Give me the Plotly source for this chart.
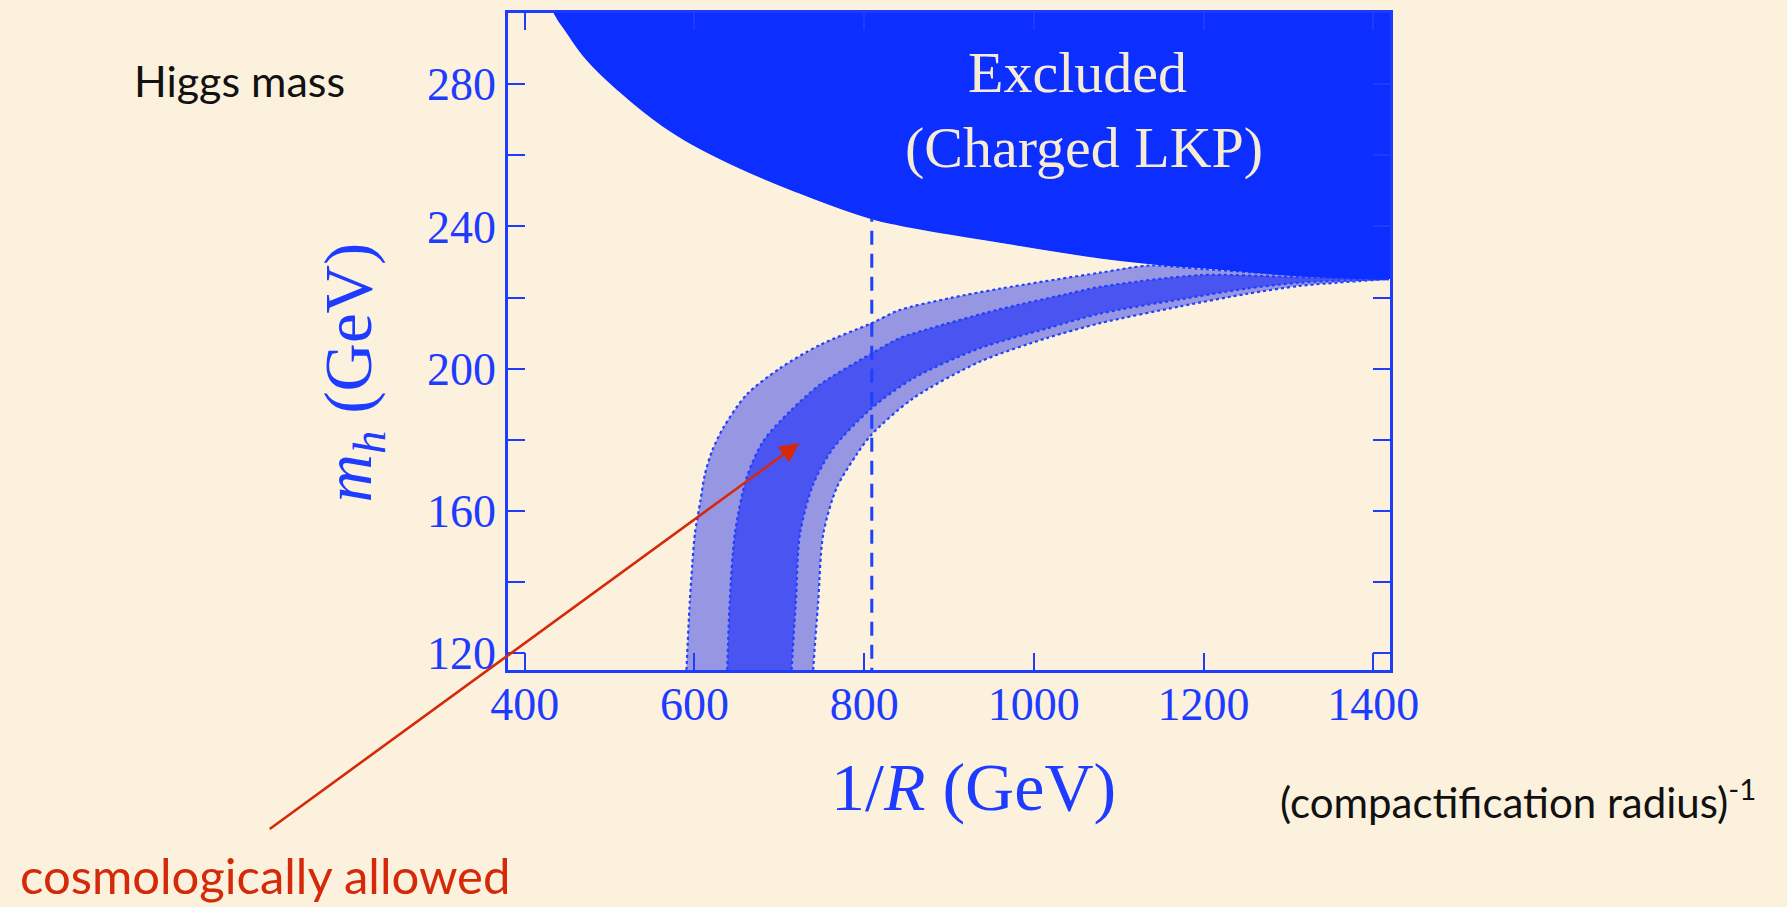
import plotly.graph_objects as go

# ---------------- data ----------------
# Excluded region (charged LKP): lower boundary m_h vs 1/R
excl_x = [434.8, 450, 473, 509, 563, 631, 721, 809, 842, 960, 1078, 1137, 1235, 1314, 1418]
excl_m = [300, 294.5, 287, 278.6, 268.3, 259, 249.7, 242.2, 240.4, 235.6, 231.2, 229.6, 227.7, 226.1, 225.2]

# outer band (light), left edge
l2_x = [590, 590.6, 594.6, 597.5, 600.5, 607, 612.3, 621, 633.8, 661.4, 700.7, 747.9, 808.8, 842, 900, 960, 1078, 1137, 1200, 1300, 1418]
l2_m = [112, 115.3, 134.8, 145, 153.5, 162.8, 170.3, 177, 183.3, 192.7, 200.1, 206.7, 212.8, 216.5, 219.8, 222.5, 227, 229, 228, 226.5, 225.2]
# outer band (light), right edge
r2_x = [739.7, 740, 745.9, 751.8, 767.6, 791.2, 808.8, 857.9, 936.6, 1015.2, 1078, 1172, 1250, 1314, 1418]
r2_m = [112, 115.3, 134.8, 153.5, 166.5, 175.9, 181.5, 191.7, 202, 208.6, 212.8, 217.5, 221, 223.3, 225.2]
# inner band (dark), left edge
l1_x = [638.2, 638.6, 641.7, 647.6, 661.4, 681, 712.5, 747.9, 808.8, 842, 877.6, 956, 1035, 1078, 1196, 1300, 1418]
l1_m = [112, 115.3, 134.8, 153.5, 169.3, 179.6, 188, 195.5, 204.3, 208.6, 211.3, 216.5, 220.8, 223, 226.3, 225.8, 225.2]
# inner band (dark), right edge
r1_x = [714.2, 714.5, 719.6, 724.3, 740, 763.6, 808.8, 857.9, 936.6, 1015.2, 1078, 1172, 1250, 1314, 1418]
r1_m = [112, 115.3, 134.8, 153.5, 167.5, 177.7, 188.9, 197.3, 205.8, 211.3, 215.5, 219.5, 222.5, 224.2, 225.2]

# vertical dashed reference line at 1/R ~ 810 GeV
vline_x = [809, 809]
vline_m = [112, 242.2]

x_ticks = [400, 600, 800, 1000, 1200, 1400]
y_ticks = [120, 160, 200, 240, 280]
y_minor_step = 20

x_range = [380.3, 1419.7]
y_range = [115.3, 300.0]

# ---------------- style ----------------
BG = "#fcf1dd"
AX = "#1e3cff"
EXCL = "#0c2eff"
LIGHT = "#9696e3"
DARK = "#4a54f0"
EDGE = "#1f40ff"
RED = "#d42a0a"
SERIF = "Liberation Serif, Times New Roman, serif"
HAND = "Lato, Noto Sans, sans-serif"

fig = go.Figure()

# light band
fig.add_trace(go.Scatter(
    x=l2_x + r2_x[::-1], y=l2_m + r2_m[::-1], mode="lines",
    line=dict(width=0, shape="spline", smoothing=0.8), fill="toself", fillcolor=LIGHT,
    hoverinfo="skip", showlegend=False))
# dark band
fig.add_trace(go.Scatter(
    x=l1_x + r1_x[::-1], y=l1_m + r1_m[::-1], mode="lines",
    line=dict(width=0, shape="spline", smoothing=0.8), fill="toself", fillcolor=DARK,
    hoverinfo="skip", showlegend=False))
# dotted edges
for cx, cm in [(l2_x, l2_m), (r2_x, r2_m), (l1_x, l1_m), (r1_x, r1_m)]:
    fig.add_trace(go.Scatter(
        x=cx, y=cm, mode="lines",
        line=dict(color=EDGE, width=2.2, dash="dot", shape="spline", smoothing=0.8),
        hoverinfo="skip", showlegend=False))

# excluded region
ex_poly_x = [420] + excl_x + [1470, 1470, 420]
ex_poly_m = [320] + excl_m + [excl_m[-1], 320, 320]
fig.add_trace(go.Scatter(
    x=ex_poly_x, y=ex_poly_m, mode="lines",
    line=dict(width=0, shape="spline", smoothing=1.2), fill="toself", fillcolor=EXCL,
    hoverinfo="skip", showlegend=False))
fig.add_trace(go.Scatter(
    x=excl_x, y=excl_m, mode="lines",
    line=dict(color=EXCL, width=1.5, shape="spline", smoothing=1.2),
    hoverinfo="skip", showlegend=False))

# dashed vertical line
fig.add_trace(go.Scatter(
    x=vline_x, y=vline_m, mode="lines",
    line=dict(color=EDGE, width=3, dash="14px,9px"),
    hoverinfo="skip", showlegend=False))

axis_common = dict(
    showline=True, linecolor=AX, linewidth=2.6, mirror="ticks",
    ticks="inside", ticklen=17, tickwidth=2.4, tickcolor=AX,
    showgrid=False, zeroline=False,
    tickfont=dict(family=SERIF, size=46, color=AX),
)
fig.update_xaxes(range=x_range, tickvals=x_ticks, ticklabelstandoff=-8, **axis_common)
fig.update_yaxes(range=y_range, tickvals=y_ticks, ticklabelstandoff=0,
                 minor=dict(tick0=y_ticks[0], dtick=y_minor_step, ticks="inside", ticklen=17,
                            tickwidth=2.4, tickcolor=AX, showgrid=False),
                 **axis_common)

annotations = [
    dict(text="Excluded", x=1051, y=283.3, xref="x", yref="y", showarrow=False,
         font=dict(family=SERIF, size=58, color="#f6ecd6"), xanchor="center", yanchor="middle"),
    dict(text="(Charged LKP)", x=1059, y=262.1, xref="x", yref="y", showarrow=False,
         font=dict(family=SERIF, size=58, color="#f6ecd6"), xanchor="center", yanchor="middle"),
    dict(text="1/<i>R</i> (GeV)", x=0.5283, y=-0.1788, xref="paper", yref="paper", showarrow=False,
         font=dict(family=SERIF, size=68, color=AX), xanchor="center", yanchor="middle"),
    dict(text="<i>m</i><sub><i>h</i></sub> (GeV)", x=-0.1757, y=0.453, xref="paper", yref="paper",
         showarrow=False, textangle=-90,
         font=dict(family=SERIF, size=67, color=AX), xanchor="center", yanchor="middle"),
    dict(text="Higgs mass", x=-0.3039, y=0.897, xref="paper", yref="paper", showarrow=False,
         font=dict(family=HAND, size=43, color="#111111"), xanchor="center", yanchor="middle"),
    dict(text="(compactification radius)<sup>-1</sup>", x=1.1451, y=-0.197, xref="paper", yref="paper",
         showarrow=False, font=dict(family=HAND, size=42, color="#111111"),
         xanchor="center", yanchor="middle"),
    dict(text="cosmologically allowed", x=-0.2755, y=-0.3121, xref="paper", yref="paper",
         showarrow=False, font=dict(family=HAND, size=49, color=RED),
         xanchor="center", yanchor="middle"),
    dict(text="", x=723.5, y=179.1, xref="x", yref="y", showarrow=True,
         ax=-531, ay=387, arrowcolor=RED, arrowwidth=2.6, arrowhead=2, arrowsize=1.5),
]

fig.update_layout(
    width=1787, height=907,
    margin=dict(l=508, r=397, t=10, b=237, pad=0),
    paper_bgcolor=BG, plot_bgcolor=BG,
    annotations=annotations,
    showlegend=False,
)

fig.write_html("out.html")
